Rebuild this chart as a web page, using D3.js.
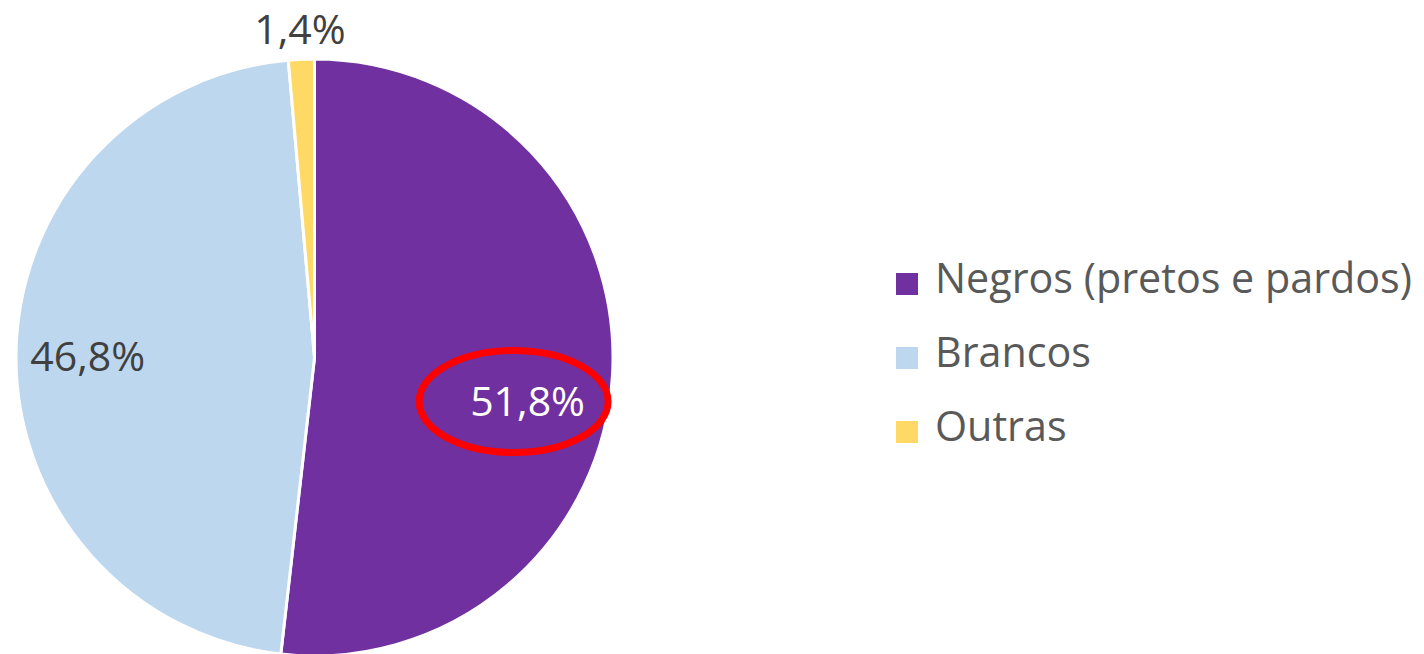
<!DOCTYPE html>
<html>
<head>
<meta charset="utf-8">
<script src="https://cdn.jsdelivr.net/npm/d3@7"></script>
<style>
html,body{margin:0;padding:0;background:#fff;}
svg{display:block;}
</style>
</head>
<body>
<svg id="chart" width="1424" height="654"></svg>
<script>
const categories = ["Negros (pretos e pardos)", "Brancos", "Outras"];
const values = [51.8, 46.8, 1.4];
const valueLabels = ["51,8%", "46,8%", "1,4%"];
const colors = ["#7030A0", "#BDD7EE", "#FFD966"];

const svg = d3.select("#chart");
const cx = 314.5, cy = 357.5, R = 298.5;
const font = "'Open Sans', 'Liberation Sans', sans-serif";

const data = categories.map((c, i) => ({cat: c, value: values[i], label: valueLabels[i], color: colors[i]}));

const pie = d3.pie().value(d => d.value).sort(null);
const arcs = pie(data);
const arc = d3.arc().innerRadius(0).outerRadius(R);

const g = svg.append("g").attr("transform", `translate(${cx},${cy})`);
g.selectAll("path.slice").data(arcs).enter().append("path")
  .attr("class", "slice")
  .attr("d", arc)
  .attr("fill", d => d.data.color)
  .attr("stroke", "#fff")
  .attr("stroke-width", 3)
  .attr("stroke-linejoin", "round");

// label placement: radius factor, extra vertical offset
const labelCfg = [
  {rf: 0.715, dy: 30, fill: "#FFFFFF"},
  {rf: 0.76, dy: 0, fill: "#404040"},
  {rf: 1.105, dy: 0, fill: "#404040"}
];
arcs.forEach((a, i) => {
  const cfg = labelCfg[i];
  const lr = R * cfg.rf;
  const la = d3.arc().innerRadius(lr).outerRadius(lr);
  const [x, y] = la.centroid(a);
  g.append("text")
    .attr("x", x).attr("y", y + cfg.dy)
    .attr("text-anchor", "middle")
    .attr("dominant-baseline", "central")
    .attr("font-family", font)
    .attr("font-size", 41)
    .attr("fill", cfg.fill)
    .text(a.data.label);
  if (i === 0) {
    g.append("ellipse")
      .attr("cx", x - 14).attr("cy", y + cfg.dy + 2)
      .attr("rx", 94.5).attr("ry", 51)
      .attr("fill", "none")
      .attr("stroke", "#FF0000")
      .attr("stroke-width", 7);
  }
});

// legend
const legend = svg.append("g").attr("transform", "translate(896,284)");
const rowH = 74;
const items = legend.selectAll("g").data(data).enter().append("g")
  .attr("transform", (d, i) => `translate(0,${i * rowH})`);
items.append("rect")
  .attr("x", 0).attr("y", -11).attr("width", 22).attr("height", 22)
  .attr("fill", d => d.color);
const texts = items.append("text")
  .attr("x", 39).attr("y", 9)
  .attr("font-family", font)
  .attr("font-size", 40)
  .attr("fill", "#595959")
  .text(d => d.cat);
// fit legend width to the available space
const targetW = 477;
let maxW = 0;
texts.each(function(){ maxW = Math.max(maxW, this.getComputedTextLength()); });
if (maxW > 0) texts.attr("font-size", 40 * targetW / maxW);
</script>
</body>
</html>
